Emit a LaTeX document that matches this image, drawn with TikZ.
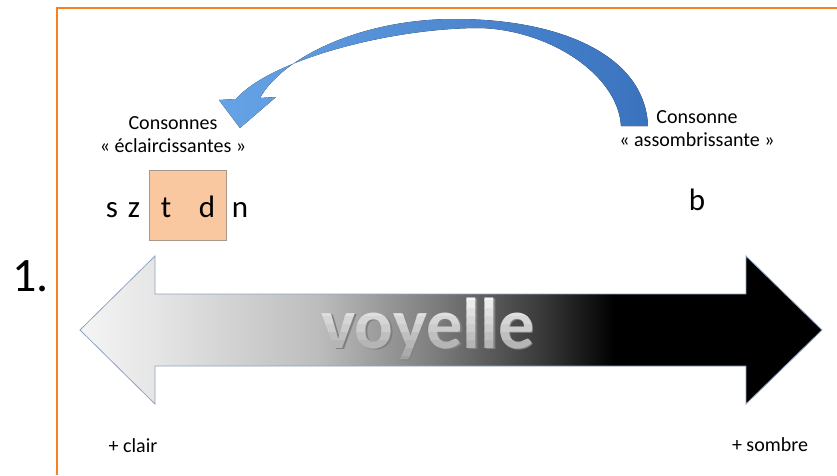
\documentclass[tikz,border=0pt]{standalone}
\usepackage{fontspec}
\setmainfont{Carlito}
\usepackage{xcolor}
\definecolor{orangeframe}{HTML}{F58220}
\definecolor{peach}{HTML}{F9C8A0}
\definecolor{peachline}{HTML}{A8998A}
\definecolor{bluelight}{HTML}{66A3E6}
\definecolor{bluedark}{HTML}{3A72BE}
\definecolor{arrowline}{HTML}{8FA3BF}
\usepackage{tikz}
\usetikzlibrary{positioning}
\pgfdeclarehorizontalshading{lighttodark}{100bp}{color(0bp)=(black!4); color(25bp)=(black!4);
  color(30bp)=(black!10); color(41bp)=(black!26); color(48.6bp)=(black!50);
  color(56bp)=(black!77); color(61bp)=(black); color(100bp)=(black)}
\newcommand{\consonant}[3]{
\node (#1) [consonant] at (#2) {#3};}
\tikzstyle{consonant}=[anchor=base, inner sep=0pt, font=\fontsize{31}{36}\selectfont]
\tikzstyle{smalltext}=[align=center, inner sep=0pt, font=\fontsize{20}{23}\selectfont]
\tikzstyle{tdbox}=[rectangle, draw=peachline, fill=peach, minimum width=77pt,
        minimum height=70pt, inner sep=0pt]
\tikzstyle{scalearrow}=[draw=arrowline, line width=0.8pt, shading=lighttodark]
\tikzstyle{curvedarrow}=[left color=bluelight, right color=bluedark, draw=none]
\tikzstyle{bigtext}=[anchor=base, inner sep=0pt, font=\fontsize{72}{80}\selectfont\bfseries]

\begin{document}
\begin{tikzpicture}[x=1pt, y=-1pt]

\useasboundingbox (0,0) rectangle (837,475);
\draw[orangeframe, line width=2pt] (57,475) -- (57,8) -- (837,8);

% the vowel scale
\draw[scalearrow] (80,330) -- (155,256) -- (155,294) -- (746,294) -- (746,256)
  -- (822,330) -- (746,404) -- (746,366) -- (155,366) -- (155,404) -- cycle;
% silver text, lighter at the top
\node (voyelleshadow) [bigtext, text=black!50] at (429.5,349.5) {voyelle};
\foreach \y in {292,300,...,372}{
  \pgfmathsetmacro{\grey}{int(4+(\y-292)*42/80)}
  \begin{scope}
  \clip (300,\y) rectangle (560,\y+8.6);
  \node (voyelle\y) [bigtext, text=black!\grey] at (428,348) {voyelle};
  \end{scope}
}

\node (number) [anchor=base west, inner sep=0pt, font=\fontsize{48}{52}\selectfont] at (12,291) {1.};

% consonants
\node (tdbox) [tdbox] at (187.5,205) {};
\consonant{s}{112,217}{s}
\consonant{z}{134,217}{z}
\consonant{t}{166,217}{t}
\consonant{d}{207,217}{d}
\consonant{n}{240,217}{n}
\consonant{b}{697,210}{b}

\node (lightlabel) [smalltext] at (173,135) {Consonnes\\« éclaircissantes »};
\node (darklabel) [smalltext] at (697,129) {Consonne\\« assombrissante »};
\node (clair) [smalltext] at (133,446) {+ clair};
\node (sombre) [smalltext] at (770,445) {+ sombre};

% b acts on t d
\fill[curvedarrow] (648,126) .. controls (645,55) and (560,19) .. (455,19)
  .. controls (360,19) and (282,58) .. (260,98) -- (276,97) -- (240,128) -- (219,100)
  -- (236,99) .. controls (270,60) and (390,28) .. (480,28)
  .. controls (550,30) and (618,75) .. (621,126) -- cycle;

\end{tikzpicture}
\end{document}
